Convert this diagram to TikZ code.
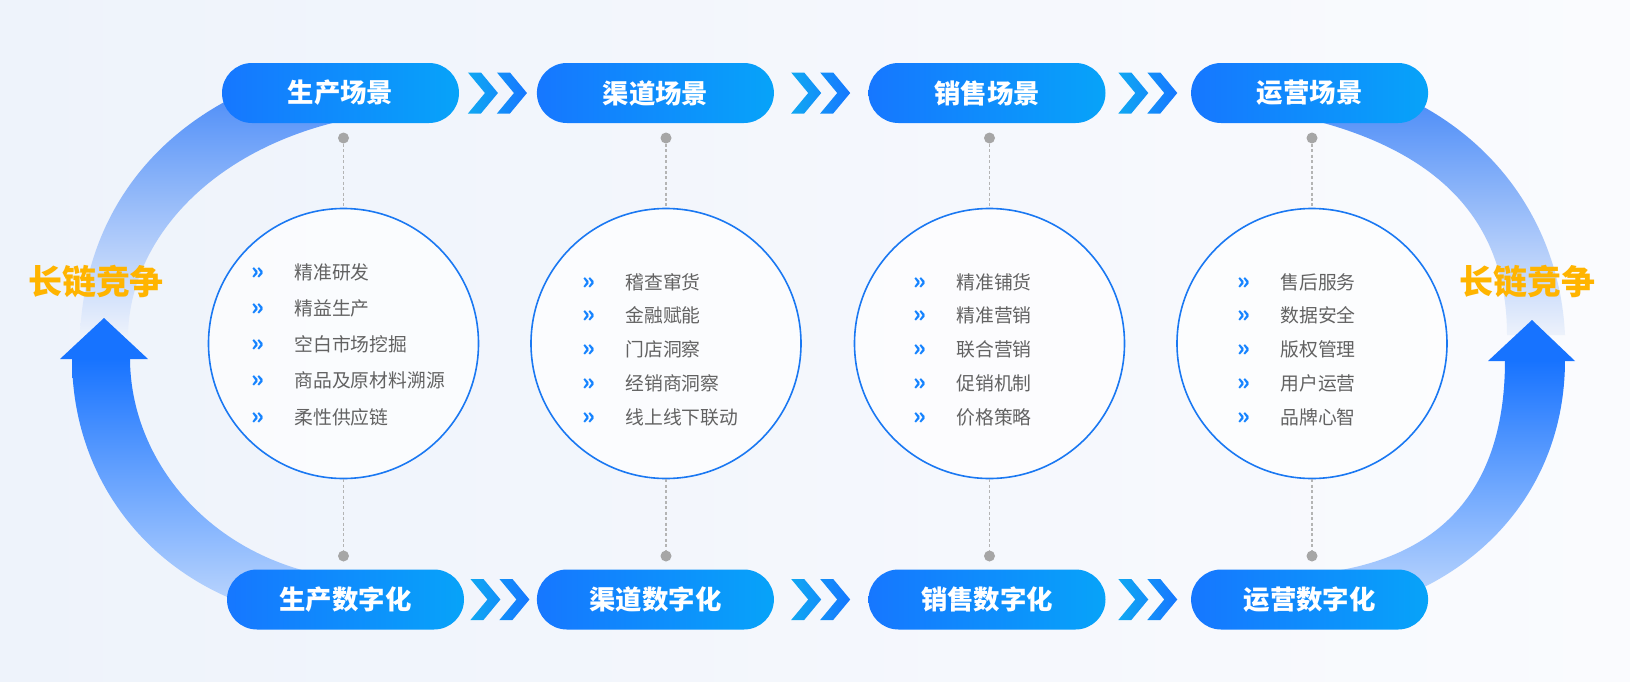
\documentclass[tikz,border=0pt]{standalone}
\usepackage{fontspec}
\usetikzlibrary{calc}
\newfontfamily\cjk{Noto Sans CJK SC}
\definecolor{pillA}{HTML}{1677FF}
\definecolor{pillB}{HTML}{07A3F9}
\definecolor{chevA}{HTML}{10A8F2}
\definecolor{chevB}{HTML}{1677FF}
\definecolor{lowA}{HTML}{1773FF}
\definecolor{lowB}{HTML}{C0D8FD}
\definecolor{upA}{HTML}{4A8BF8}
\definecolor{upB}{HTML}{EDF2FB}
\definecolor{ringblue}{HTML}{1A78F2}
\definecolor{dotgray}{HTML}{A6A6A6}
\definecolor{linegray}{HTML}{B4B4B4}
\definecolor{itemgray}{HTML}{626262}
\definecolor{bulblue}{HTML}{1583FF}
\definecolor{gold}{HTML}{FFB400}
\definecolor{bgA}{HTML}{EEF3FB}
\definecolor{bgB}{HTML}{FAFBFE}
\newcommand\bul{\makebox[21.5pt][l]{\color{bulblue}\bfseries\fontsize{11.5}{11.5}\selectfont »}}

\begin{document}
\begin{tikzpicture}[x=0.5pt, y=-0.5pt,
    scene/.style ={rounded corners=15pt, minimum width=118.5pt, minimum height=30pt, inner sep=0pt,
        left color=pillA, right color=pillB, text=white, font=\cjk\bfseries\fontsize{13.2}{13.2}\selectfont},
    ring/.style ={circle, draw=ringblue, line width=0.8pt, fill=white, fill opacity=0.7, text opacity=1, minimum size=135pt},
    dot/.style ={circle, fill=dotgray, inner sep=0pt, minimum size=5.5pt},
    link/.style ={draw=linegray, dash pattern=on 1.5pt off 1.2pt, line width=0.6pt},
    items/.style ={anchor=west, align=left, inner sep=0pt, text=itemgray, font=\cjk\fontsize{9.4}{#1}\selectfont},
    chain/.style ={text=gold, font=\cjk\bfseries\fontsize{17}{17}\selectfont},
    chevrons/.pic ={\shade[left color=chevA, right color=chevB]
        (-30,-20.5) -- (-17,-20.5) -- (0,0) -- (-17,20.5) -- (-30,20.5) -- (-13,0) -- cycle
        (-1,-20.5) -- (12,-20.5) -- (29,0) -- (12,20.5) -- (-1,20.5) -- (16,0) -- cycle;}]
   % background
   \shade[left color=bgA, right color=bgB] (0,0) rectangle (1630,681);
   % big arcs
   \shade[top color=upA, bottom color=upB] (80,335) .. controls (85,220) and (150,130) .. (260,85)
       -- (345,120) .. controls (210,150) and (130,240) .. (128,335) -- cycle;
   \shade[top color=lowA, bottom color=lowB] (72,358) .. controls (72,480) and (150,580) .. (270,612)
       -- (340,578) .. controls (210,560) and (130,460) .. (130,358) -- cycle;
   \fill[lowA] (60,359) -- (104,318) -- (148,359) -- cycle;
   \shade[top color=upA, bottom color=upB] (1565,335) .. controls (1560,230) and (1500,140) .. (1400,95)
       -- (1320,122) .. controls (1460,160) and (1507,240) .. (1507,335) -- cycle;
   \shade[top color=lowA, bottom color=lowB] (1565,360) .. controls (1565,480) and (1490,570) .. (1380,605)
       -- (1300,575) .. controls (1450,565) and (1505,480) .. (1505,360) -- cycle;
   \fill[lowA] (1488,361) -- (1532,320) -- (1575,361) -- cycle;
   \node[chain] (lc1) at (96,282) {长链竞争};
   \node[chain] (lc2) at (1527,282) {长链竞争};
   % circles
   \node[ring] (c1) at (343.5,343.5) {};
   \node[ring] (c2) at (666,343.5) {};
   \node[ring] (c3) at (989.5,343.5) {};
   \node[ring] (c4) at (1312,343.5) {};
   % scenes
   \node[scene] (sc1) at (340.5,93) {生产场景};
   \node[scene] (sc2) at (655.4,93) {渠道场景};
   \node[scene] (sc3) at (987,93) {销售场景};
   \node[scene] (sc4) at (1309.6,93) {运营场景};
   \node[scene] (dg1) at (345.5,599.5) {生产数字化};
   \node[scene] (dg2) at (655.4,599.5) {渠道数字化};
   \node[scene] (dg3) at (987,599.5) {销售数字化};
   \node[scene] (dg4) at (1309.6,599.5) {运营数字化};
   \pic at ($(sc1.east)!0.5!(sc2.west)$) {chevrons};
   \pic at ($(sc2.east)!0.5!(sc3.west)$) {chevrons};
   \pic at ($(sc3.east)!0.5!(sc4.west)$) {chevrons};
   \pic at ($(dg1.east)!0.5!(dg2.west)$) {chevrons};
   \pic at ($(dg2.east)!0.5!(dg3.west)$) {chevrons};
   \pic at ($(dg3.east)!0.5!(dg4.west)$) {chevrons};
   % dots and dashed links
   \node[dot] (dt1) at (343.5,138) {};
   \node[dot] (dt2) at (666,138) {};
   \node[dot] (dt3) at (989.5,138) {};
   \node[dot] (dt4) at (1312,138) {};
   \node[dot] (db1) at (343.5,556) {};
   \node[dot] (db2) at (666,556) {};
   \node[dot] (db3) at (989.5,556) {};
   \node[dot] (db4) at (1312,556) {};
   \draw[link] (dt1) -- (c1);  \draw[link] (c1) -- (db1);
   \draw[link] (dt2) -- (c2);  \draw[link] (c2) -- (db2);
   \draw[link] (dt3) -- (c3);  \draw[link] (c3) -- (db3);
   \draw[link] (dt4) -- (c4);  \draw[link] (c4) -- (db4);
   % lists
   \node[items=18.1pt] (l1) at (251,344.5) {\bul 精准研发\\ \bul 精益生产\\ \bul 空白市场挖掘\\ \bul 商品及原材料溯源\\ \bul 柔性供应链};
   \node[items=16.9pt] (l2) at (582,349.5) {\bul 稽查窜货\\ \bul 金融赋能\\ \bul 门店洞察\\ \bul 经销商洞察\\ \bul 线上线下联动};
   \node[items=16.9pt] (l3) at (913,349.5) {\bul 精准铺货\\ \bul 精准营销\\ \bul 联合营销\\ \bul 促销机制\\ \bul 价格策略};
   \node[items=16.9pt] (l4) at (1237,349.5) {\bul 售后服务\\ \bul 数据安全\\ \bul 版权管理\\ \bul 用户运营\\ \bul 品牌心智};
\end{tikzpicture}
\end{document}
